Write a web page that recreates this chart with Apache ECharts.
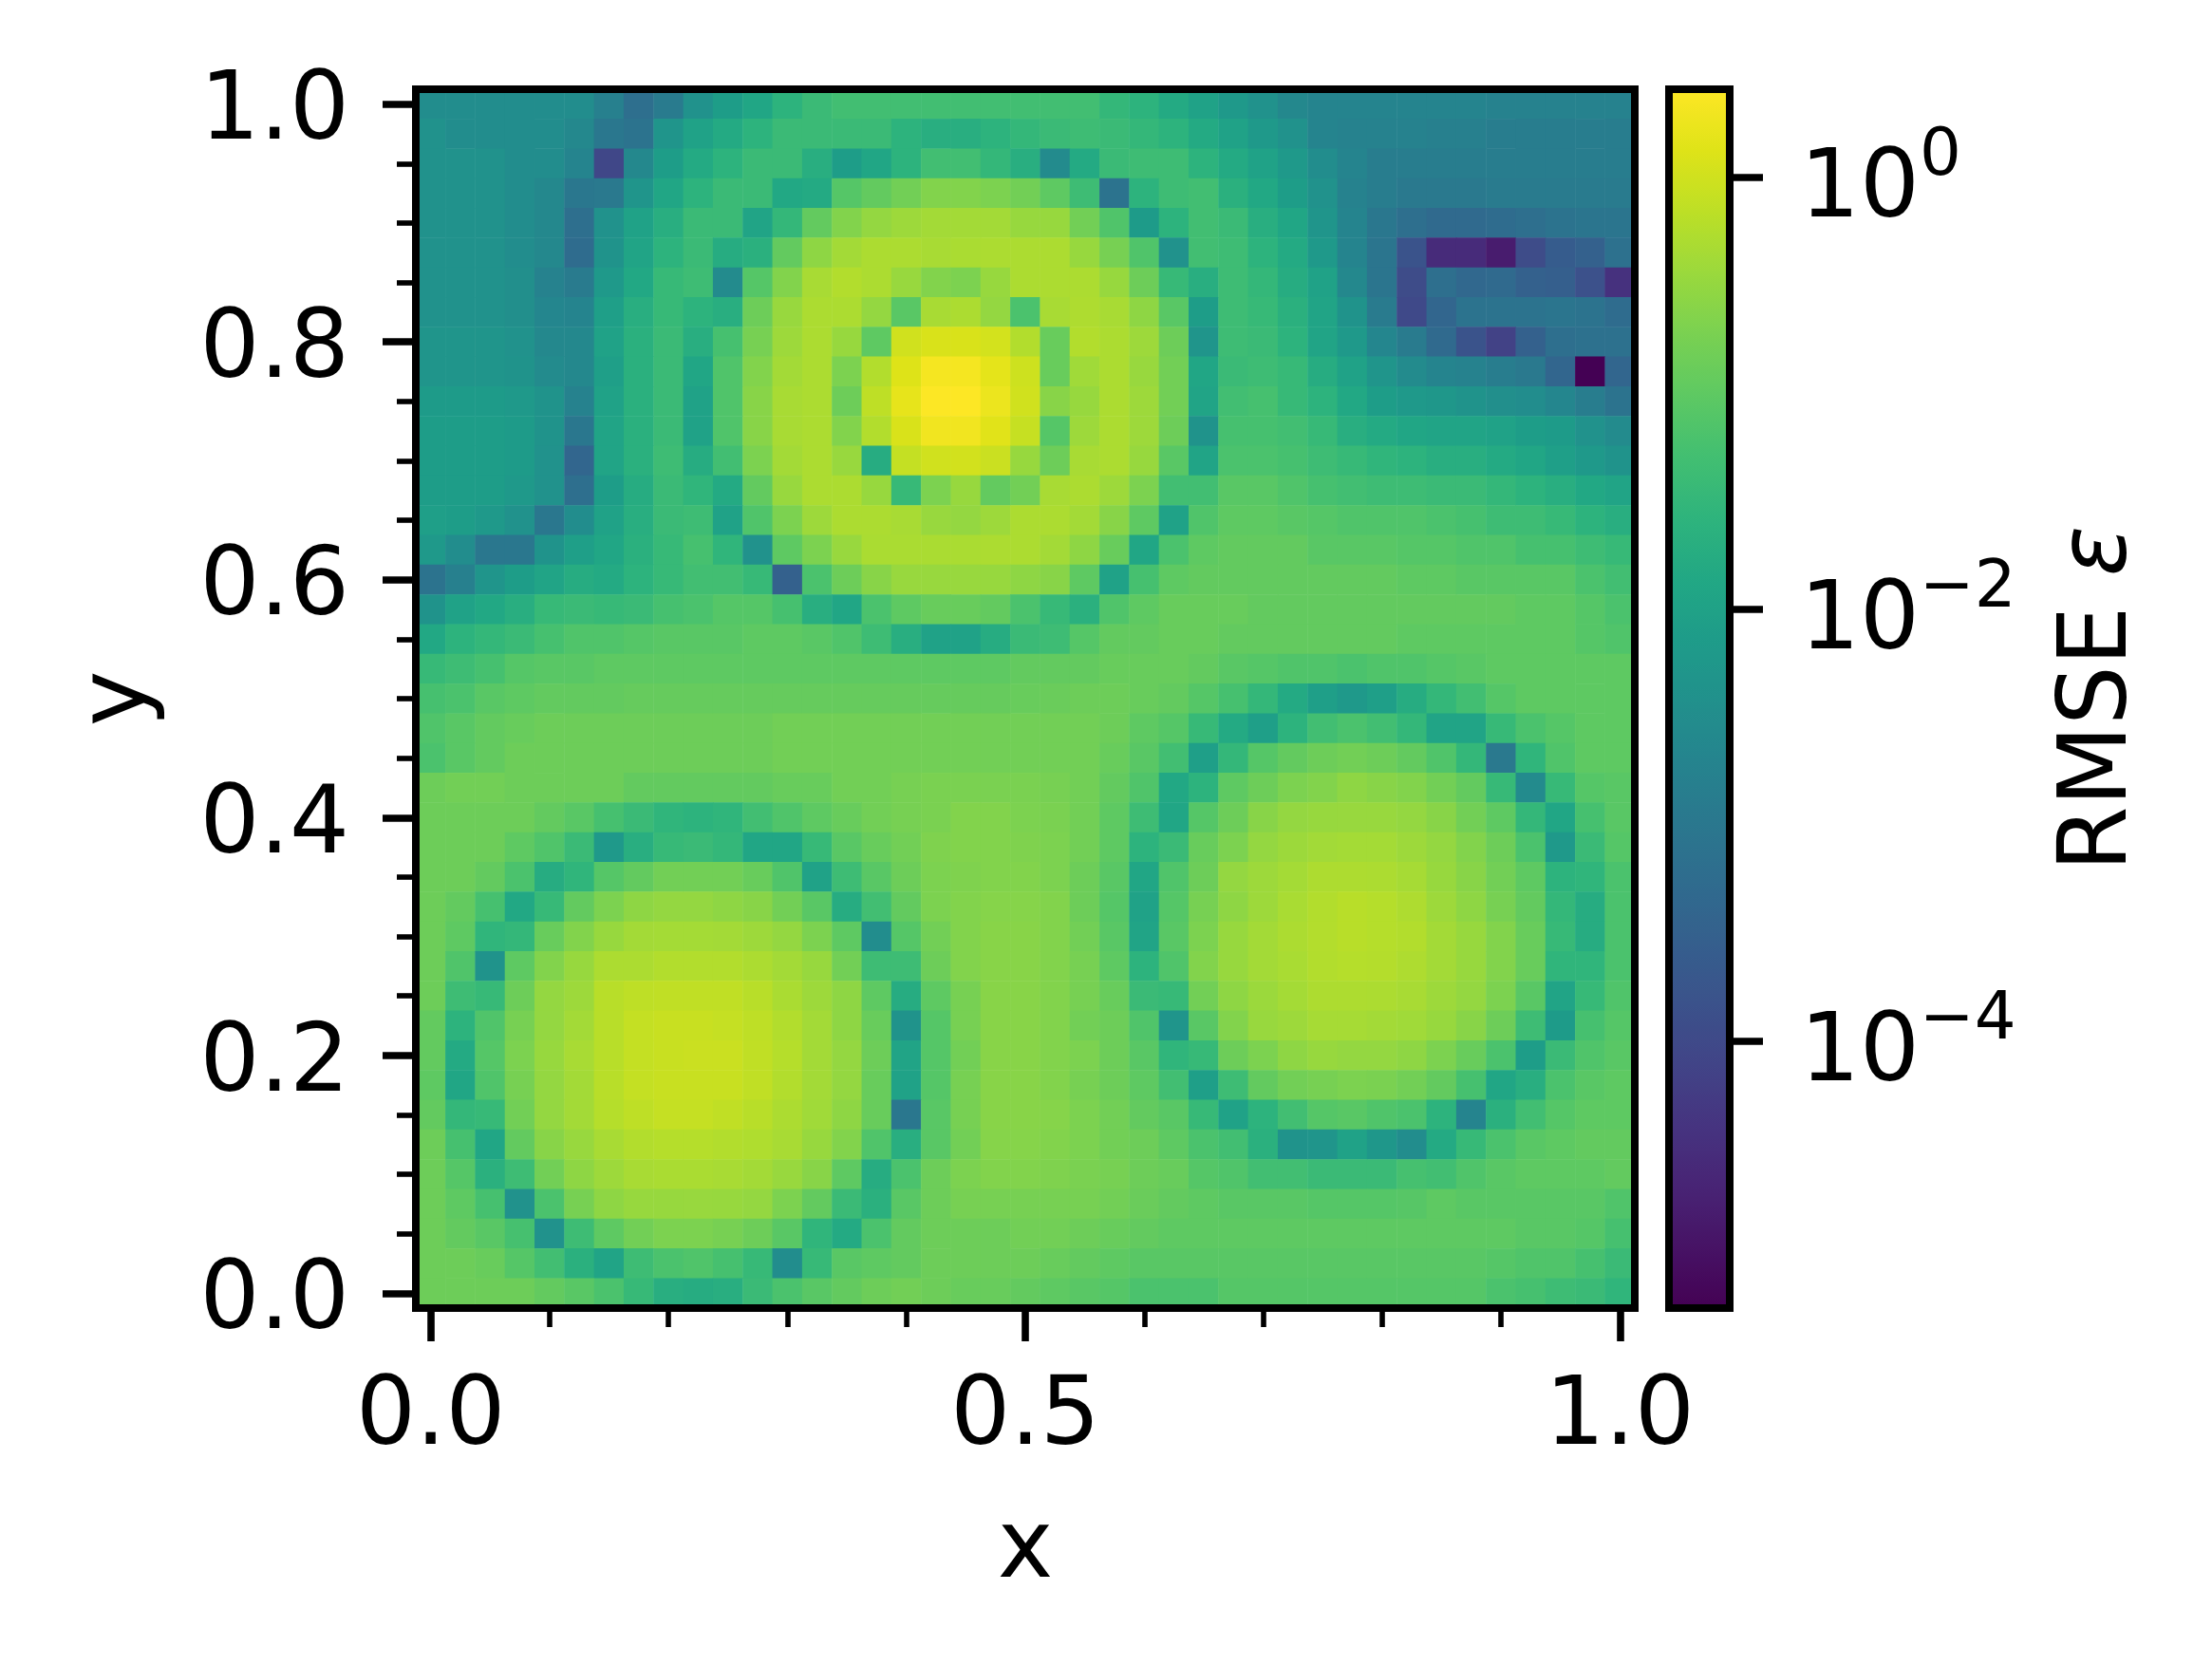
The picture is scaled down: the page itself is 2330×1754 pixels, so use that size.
<!DOCTYPE html>
<html>
<head>
<meta charset="utf-8">
<title>RMSE heat map</title>
<style>html,body{margin:0;padding:0;background:#fff}#chart{width:2330px;height:1754px}</style>
<script src="https://cdn.jsdelivr.net/npm/echarts@6/dist/echarts.min.js"></script>
</head>
<body>
<div id="chart"></div>
<script>
// Axis positions of the 41 x 41 cells
const xCategories = ['0.000','0.025','0.050','0.075','0.100','0.125','0.150','0.175','0.200','0.225','0.250','0.275','0.300','0.325','0.350','0.375','0.400','0.425','0.450','0.475','0.500','0.525','0.550','0.575','0.600','0.625','0.650','0.675','0.700','0.725','0.750','0.775','0.800','0.825','0.850','0.875','0.900','0.925','0.950','0.975','1.000'];
const yCategories = xCategories.slice();
const colorbarTicks = [-4, -2, 0];
const colorbarLabels = {'-4': '−4', '-2': '−2', '0': '0'};

// log10(RMSE), one array per row, top row (y = 1.0) first
const row00 = [-2.5,-2.5,-2.5,-2.5,-2.5,-2.5,-2.8,-3.2,-2.9,-2.4, -2.1,-1.9,-1.6,-1.4,-1.3,-1.3,-1.3,-1.3,-1.3,-1.3, -1.3,-1.3,-1.3,-1.5,-1.6,-1.8,-2.0,-2.2,-2.4,-2.6, -2.7,-2.7,-2.7,-2.7,-2.7,-2.7,-2.75,-2.75,-2.75,-2.75,-2.75];
const row01 = [-2.4,-2.5,-2.5,-2.5,-2.5,-2.6,-3.0,-3.1,-2.3,-2.0, -1.8,-1.6,-1.4,-1.4,-1.4,-1.4,-1.6,-1.7,-1.7,-1.6, -1.5,-1.4,-1.35,-1.4,-1.5,-1.6,-1.8,-2.0,-2.2,-2.4, -2.7,-2.75,-2.75,-2.75,-2.8,-2.8,-2.85,-2.85,-2.85,-2.85,-2.85];
const row02 = [-2.4,-2.4,-2.4,-2.5,-2.5,-2.7,-4.05,-2.6,-2.1,-1.8, -1.6,-1.4,-1.4,-1.7,-2.1,-1.9,-1.6,-1.3,-1.3,-1.5, -1.7,-2.55,-1.8,-1.4,-1.35,-1.35,-1.6,-1.8,-2.0,-2.2, -2.5,-2.7,-2.85,-2.85,-2.85,-2.85,-2.85,-2.85,-2.85,-2.85,-2.85];
const row03 = [-2.4,-2.4,-2.4,-2.5,-2.6,-3.0,-2.95,-2.3,-1.9,-1.6, -1.4,-1.4,-1.85,-1.8,-1.1,-0.95,-0.8,-0.65,-0.65,-0.7, -0.8,-1.0,-1.35,-3.1,-1.6,-1.35,-1.3,-1.65,-1.85,-2.1, -2.4,-2.75,-2.85,-2.95,-2.95,-2.95,-2.9,-2.9,-2.9,-2.9,-2.9];
const row04 = [-2.4,-2.4,-2.4,-2.5,-2.6,-3.2,-2.4,-2.0,-1.7,-1.4, -1.4,-1.95,-1.5,-0.95,-0.65,-0.5,-0.42,-0.37,-0.37,-0.37, -0.47,-0.47,-0.8,-1.15,-2.15,-1.6,-1.3,-1.4,-1.7,-1.9, -2.3,-2.7,-3.0,-3.2,-3.3,-3.3,-3.25,-3.2,-3.1,-3.05,-3.05];
const row05 = [-2.4,-2.4,-2.4,-2.5,-2.6,-3.25,-2.35,-1.95,-1.6,-1.4, -1.75,-1.65,-0.95,-0.55,-0.37,-0.3,-0.3,-0.33,-0.31,-0.3, -0.3,-0.3,-0.47,-0.75,-1.15,-2.4,-1.3,-1.35,-1.6,-1.8, -2.2,-2.7,-3.05,-3.8,-4.55,-4.55,-4.8,-3.95,-3.6,-3.5,-3.15];
const row06 = [-2.4,-2.4,-2.4,-2.45,-2.75,-2.9,-2.2,-1.85,-1.45,-1.35, -2.55,-1.1,-0.65,-0.33,-0.25,-0.3,-0.46,-0.65,-0.7,-0.47, -0.3,-0.3,-0.3,-0.47,-0.85,-1.45,-1.7,-1.35,-1.5,-1.75, -2.0,-2.6,-3.05,-3.95,-3.2,-3.35,-3.3,-3.5,-3.55,-3.85,-4.45];
const row07 = [-2.4,-2.4,-2.4,-2.45,-2.65,-2.7,-2.05,-1.7,-1.45,-1.6, -1.7,-0.85,-0.46,-0.3,-0.3,-0.5,-1.05,-0.33,-0.3,-0.5, -1.2,-0.33,-0.28,-0.33,-0.55,-1.05,-2.1,-1.35,-1.45,-1.65, -1.95,-2.35,-2.9,-4.0,-3.4,-3.1,-3.1,-3.1,-3.05,-3.1,-3.25];
const row08 = [-2.3,-2.3,-2.3,-2.4,-2.6,-2.6,-2.0,-1.65,-1.4,-1.7, -1.25,-0.75,-0.42,-0.3,-0.47,-1.0,0.0,0.08,0.08,0.03, -0.25,-0.9,-0.25,-0.3,-0.42,-0.85,-2.3,-1.35,-1.4,-1.6, -1.95,-2.2,-2.65,-2.9,-3.3,-3.8,-4.15,-3.5,-3.2,-3.15,-3.15];
const row09 = [-2.3,-2.3,-2.3,-2.35,-2.55,-2.6,-2.05,-1.65,-1.4,-1.9, -1.15,-0.65,-0.37,-0.3,-0.7,-0.25,0.12,0.33,0.33,0.18, -0.02,-0.9,-0.4,-0.3,-0.46,-0.8,-1.9,-1.4,-1.35,-1.45, -1.75,-2.0,-2.3,-2.55,-2.7,-2.75,-2.85,-2.95,-3.4,-5.24,-3.4];
const row10 = [-2.15,-2.15,-2.15,-2.2,-2.35,-2.75,-2.0,-1.65,-1.4,-2.0, -1.15,-0.6,-0.33,-0.3,-0.85,-0.15,0.2,0.4,0.41,0.25, 0.0,-0.6,-0.47,-0.3,-0.42,-0.8,-1.95,-1.3,-1.25,-1.45, -1.6,-1.85,-2.1,-2.2,-2.25,-2.35,-2.45,-2.5,-2.65,-2.85,-3.1];
const row11 = [-2.1,-2.1,-2.1,-2.15,-2.35,-3.0,-1.95,-1.65,-1.4,-2.0, -1.15,-0.6,-0.33,-0.3,-0.65,-0.25,0.08,0.3,0.3,0.15, -0.08,-1.1,-0.42,-0.3,-0.42,-0.85,-2.35,-1.25,-1.25,-1.3, -1.45,-1.7,-1.8,-1.9,-1.95,-1.95,-2.0,-2.1,-2.15,-2.4,-2.55];
const row12 = [-2.1,-2.1,-2.1,-2.15,-2.4,-3.4,-1.95,-1.65,-1.35,-1.75, -1.3,-0.7,-0.37,-0.3,-0.46,-1.75,-0.1,0.0,0.02,-0.05, -0.47,-0.85,-0.33,-0.3,-0.47,-1.05,-1.95,-1.2,-1.2,-1.25, -1.35,-1.45,-1.55,-1.6,-1.7,-1.7,-1.8,-1.9,-2.05,-2.2,-2.35];
const row13 = [-2.1,-2.1,-2.1,-2.2,-2.4,-3.2,-2.1,-1.75,-1.4,-1.55, -1.8,-0.95,-0.46,-0.3,-0.3,-0.47,-1.45,-0.7,-0.47,-0.95, -0.8,-0.33,-0.3,-0.42,-0.7,-1.3,-1.3,-1.05,-1.05,-1.15, -1.25,-1.3,-1.35,-1.35,-1.4,-1.4,-1.5,-1.6,-1.7,-1.85,-1.95];
const row14 = [-2.05,-2.1,-2.2,-2.4,-3.0,-2.5,-2.0,-1.7,-1.4,-1.35, -2.0,-1.15,-0.7,-0.42,-0.3,-0.3,-0.33,-0.46,-0.5,-0.42, -0.3,-0.3,-0.37,-0.6,-1.0,-2.0,-1.15,-1.0,-1.0,-1.05, -1.1,-1.15,-1.15,-1.15,-1.2,-1.25,-1.35,-1.35,-1.45,-1.6,-1.7];
const row15 = [-2.2,-2.5,-3.0,-3.0,-2.35,-2.05,-1.9,-1.65,-1.45,-1.25, -1.55,-2.4,-1.0,-0.7,-0.46,-0.31,-0.31,-0.31,-0.31,-0.3, -0.3,-0.37,-0.55,-0.9,-1.9,-1.2,-1.0,-0.95,-0.95,-0.95, -1.05,-1.05,-1.05,-1.1,-1.1,-1.15,-1.15,-1.25,-1.25,-1.35,-1.45];
const row16 = [-3.1,-2.8,-2.3,-2.1,-1.95,-1.75,-1.8,-1.6,-1.45,-1.3, -1.3,-1.45,-3.5,-1.2,-0.85,-0.6,-0.46,-0.46,-0.46,-0.47, -0.55,-0.6,-1.0,-2.0,-1.25,-1.0,-0.95,-0.95,-0.95,-0.95, -0.95,-0.95,-0.95,-1.0,-1.0,-1.05,-1.05,-1.05,-1.05,-1.2,-1.3];
const row17 = [-2.35,-2.0,-1.85,-1.7,-1.45,-1.4,-1.45,-1.4,-1.25,-1.2, -1.1,-1.1,-1.25,-1.7,-1.9,-1.2,-1.0,-0.9,-0.9,-0.95, -1.2,-1.45,-1.65,-1.15,-1.0,-0.9,-0.9,-0.9,-0.95,-0.95, -0.95,-0.95,-0.95,-0.95,-0.95,-0.95,-0.95,-1.0,-1.0,-1.1,-1.2];
const row18 = [-1.85,-1.6,-1.5,-1.4,-1.25,-1.15,-1.15,-1.1,-1.05,-1.05, -1.05,-1.0,-1.0,-1.05,-1.15,-1.35,-1.7,-2.0,-2.0,-1.75, -1.4,-1.35,-1.1,-0.95,-0.95,-0.9,-0.9,-0.95,-0.95,-0.95, -0.95,-0.95,-0.95,-1.0,-1.0,-1.0,-1.0,-1.0,-1.0,-1.1,-1.15];
const row19 = [-1.45,-1.35,-1.25,-1.1,-1.05,-1.05,-1.0,-1.0,-1.0,-1.0, -1.0,-1.0,-1.0,-1.0,-1.0,-1.0,-1.0,-1.0,-1.0,-1.0, -0.95,-0.95,-0.95,-0.9,-0.9,-0.9,-0.95,-1.05,-1.1,-1.15, -1.15,-1.2,-1.15,-1.15,-1.1,-1.05,-1.0,-1.0,-1.0,-1.0,-1.0];
const row20 = [-1.25,-1.2,-1.05,-1.0,-0.95,-0.95,-0.95,-0.92,-0.92,-0.92, -0.92,-0.92,-0.92,-0.92,-0.92,-0.92,-0.92,-0.92,-0.92,-0.92, -0.9,-0.88,-0.85,-0.85,-0.9,-0.95,-1.1,-1.25,-1.5,-1.8, -2.05,-2.2,-2.05,-1.75,-1.5,-1.3,-1.1,-1.0,-1.0,-1.0,-1.0];
const row21 = [-1.15,-1.05,-0.95,-0.9,-0.85,-0.85,-0.85,-0.85,-0.85,-0.85, -0.85,-0.85,-0.8,-0.8,-0.8,-0.8,-0.8,-0.8,-0.8,-0.8, -0.8,-0.8,-0.8,-0.85,-1.0,-1.1,-1.45,-1.8,-2.05,-1.6, -1.3,-1.2,-1.3,-1.5,-1.95,-1.95,-1.45,-1.2,-1.1,-1.0,-1.0];
const row22 = [-1.2,-1.05,-0.95,-0.85,-0.85,-0.85,-0.85,-0.85,-0.85,-0.85, -0.85,-0.85,-0.8,-0.8,-0.8,-0.8,-0.8,-0.8,-0.8,-0.8, -0.8,-0.8,-0.8,-0.9,-1.05,-1.3,-2.05,-1.5,-1.1,-0.95, -0.85,-0.8,-0.85,-0.95,-1.15,-1.5,-2.95,-1.55,-1.15,-1.0,-1.0];
const row23 = [-0.85,-0.8,-0.8,-0.85,-0.85,-0.85,-0.85,-0.95,-0.95,-0.95, -0.95,-0.95,-0.9,-0.9,-0.8,-0.8,-0.75,-0.72,-0.72,-0.72, -0.72,-0.75,-0.8,-0.95,-1.15,-1.85,-1.6,-1.0,-0.85,-0.7, -0.65,-0.55,-0.6,-0.65,-0.8,-0.95,-1.45,-2.55,-1.45,-1.1,-1.05];
const row24 = [-0.85,-0.85,-0.85,-0.85,-0.95,-1.05,-1.25,-1.4,-1.55,-1.6, -1.55,-1.3,-1.15,-1.0,-0.9,-0.8,-0.75,-0.72,-0.65,-0.65, -0.7,-0.72,-0.8,-1.0,-1.35,-1.9,-1.1,-0.85,-0.6,-0.5, -0.47,-0.46,-0.46,-0.5,-0.6,-0.8,-1.0,-1.5,-1.9,-1.25,-1.05];
const row25 = [-0.85,-0.85,-0.85,-1.0,-1.15,-1.4,-2.2,-1.7,-1.45,-1.4, -1.5,-1.9,-1.9,-1.45,-1.05,-0.9,-0.8,-0.68,-0.65,-0.65, -0.68,-0.7,-0.8,-1.0,-1.6,-1.4,-0.9,-0.7,-0.5,-0.43, -0.38,-0.36,-0.36,-0.42,-0.5,-0.65,-0.85,-1.2,-2.2,-1.4,-1.1];
const row26 = [-0.85,-0.85,-0.95,-1.2,-1.75,-1.55,-1.1,-0.95,-0.8,-0.8, -0.8,-0.9,-1.15,-2.0,-1.35,-1.05,-0.85,-0.7,-0.68,-0.65, -0.65,-0.7,-0.85,-1.05,-1.9,-1.15,-0.85,-0.5,-0.42,-0.36, -0.29,-0.29,-0.3,-0.35,-0.47,-0.6,-0.8,-1.0,-1.6,-1.55,-1.2];
const row27 = [-0.85,-0.95,-1.25,-1.85,-1.45,-0.95,-0.7,-0.55,-0.5,-0.5, -0.55,-0.6,-0.8,-1.05,-1.75,-1.3,-0.95,-0.7,-0.65,-0.62, -0.62,-0.65,-0.85,-1.1,-2.0,-1.1,-0.75,-0.55,-0.42,-0.32, -0.25,-0.2,-0.22,-0.28,-0.42,-0.55,-0.75,-0.95,-1.5,-1.75,-1.2];
const row28 = [-0.85,-1.0,-1.55,-1.5,-0.9,-0.65,-0.47,-0.37,-0.36,-0.36, -0.37,-0.42,-0.5,-0.7,-1.0,-2.5,-1.1,-0.8,-0.65,-0.6, -0.6,-0.65,-0.8,-1.05,-1.95,-1.05,-0.7,-0.47,-0.37,-0.3, -0.24,-0.2,-0.22,-0.25,-0.37,-0.47,-0.65,-0.9,-1.45,-1.75,-1.2];
const row29 = [-0.85,-1.15,-2.35,-1.0,-0.65,-0.47,-0.3,-0.3,-0.25,-0.25, -0.25,-0.3,-0.37,-0.47,-0.8,-1.35,-1.35,-0.85,-0.65,-0.6, -0.6,-0.65,-0.75,-1.0,-1.6,-1.15,-0.65,-0.47,-0.37,-0.32, -0.25,-0.22,-0.23,-0.28,-0.37,-0.47,-0.65,-0.9,-1.55,-1.55,-1.2];
const row30 = [-0.85,-1.35,-1.45,-0.85,-0.5,-0.42,-0.2,-0.15,-0.13,-0.13, -0.13,-0.2,-0.31,-0.42,-0.55,-1.0,-1.75,-1.0,-0.75,-0.6, -0.6,-0.65,-0.75,-0.9,-1.4,-1.45,-0.8,-0.55,-0.44,-0.36, -0.29,-0.29,-0.3,-0.33,-0.42,-0.5,-0.7,-1.05,-1.95,-1.45,-1.15];
const row31 = [-0.95,-1.6,-1.15,-0.75,-0.5,-0.37,-0.2,-0.1,-0.06,-0.06, -0.09,-0.15,-0.25,-0.37,-0.55,-0.9,-2.35,-1.1,-0.75,-0.6, -0.6,-0.65,-0.8,-0.85,-1.15,-2.3,-1.05,-0.65,-0.46,-0.42, -0.35,-0.35,-0.37,-0.4,-0.47,-0.6,-0.85,-1.35,-2.15,-1.25,-1.1];
const row32 = [-0.95,-1.8,-1.1,-0.7,-0.47,-0.33,-0.2,-0.1,-0.06,-0.05, -0.05,-0.13,-0.22,-0.37,-0.5,-0.85,-1.95,-1.1,-0.8,-0.6, -0.6,-0.65,-0.7,-0.85,-1.05,-1.55,-1.45,-0.85,-0.7,-0.55, -0.47,-0.5,-0.5,-0.55,-0.7,-0.9,-1.2,-2.1,-1.4,-1.15,-1.05];
const row33 = [-1.0,-1.9,-1.15,-0.75,-0.5,-0.37,-0.2,-0.1,-0.06,-0.06, -0.06,-0.13,-0.25,-0.37,-0.5,-0.9,-2.0,-1.1,-0.75,-0.6, -0.6,-0.65,-0.75,-0.85,-1.0,-1.3,-2.05,-1.35,-0.95,-0.8, -0.75,-0.7,-0.72,-0.8,-0.95,-1.25,-1.9,-1.7,-1.2,-1.05,-1.0];
const row34 = [-0.95,-1.5,-1.45,-0.8,-0.5,-0.37,-0.22,-0.15,-0.09,-0.09, -0.13,-0.2,-0.3,-0.4,-0.55,-0.9,-3.0,-1.05,-0.75,-0.6, -0.6,-0.62,-0.7,-0.8,-0.95,-1.05,-1.45,-2.0,-1.6,-1.3, -1.1,-1.05,-1.15,-1.2,-1.6,-2.7,-1.65,-1.3,-1.1,-1.0,-1.0];
const row35 = [-0.85,-1.25,-1.9,-0.95,-0.6,-0.46,-0.33,-0.25,-0.22,-0.22, -0.25,-0.27,-0.33,-0.47,-0.65,-1.15,-1.7,-1.05,-0.8,-0.62, -0.62,-0.65,-0.7,-0.8,-0.85,-1.0,-1.2,-1.3,-1.65,-2.35, -2.3,-2.0,-2.25,-2.5,-1.8,-1.45,-1.2,-1.05,-1.0,-0.95,-0.95];
const row36 = [-0.85,-1.1,-1.65,-1.35,-0.8,-0.55,-0.42,-0.33,-0.31,-0.31, -0.33,-0.37,-0.46,-0.6,-1.0,-1.75,-1.2,-0.85,-0.7,-0.65, -0.65,-0.68,-0.72,-0.75,-0.85,-0.9,-1.1,-1.15,-1.3,-1.3, -1.4,-1.4,-1.4,-1.25,-1.3,-1.15,-1.05,-1.0,-1.0,-1.0,-0.95];
const row37 = [-0.85,-1.0,-1.25,-2.4,-1.2,-0.75,-0.55,-0.47,-0.47,-0.46, -0.47,-0.5,-0.7,-0.95,-1.4,-1.65,-1.05,-0.85,-0.75,-0.75, -0.75,-0.75,-0.75,-0.8,-0.88,-0.95,-1.0,-1.05,-1.05,-1.05, -1.1,-1.1,-1.1,-1.08,-1.0,-1.05,-1.05,-1.05,-1.05,-1.05,-1.15];
const row38 = [-0.85,-0.95,-1.05,-1.25,-2.4,-1.35,-1.0,-0.8,-0.7,-0.7, -0.75,-0.85,-1.05,-1.55,-1.8,-1.2,-0.95,-0.85,-0.85,-0.85, -0.8,-0.8,-0.85,-0.9,-0.95,-1.0,-1.0,-1.0,-1.0,-1.0, -1.0,-1.0,-1.0,-1.0,-1.0,-1.0,-1.0,-1.05,-1.05,-1.1,-1.25];
const row39 = [-0.85,-0.85,-0.9,-1.1,-1.3,-1.65,-1.95,-1.35,-1.2,-1.15, -1.25,-1.45,-2.5,-1.45,-1.05,-1.0,-0.95,-0.85,-0.85,-0.85, -0.85,-0.9,-0.95,-1.0,-1.05,-1.05,-1.05,-1.05,-1.05,-1.05, -1.05,-1.05,-1.05,-1.05,-1.05,-1.05,-1.1,-1.15,-1.15,-1.25,-1.4];
const row40 = [-0.85,-0.85,-0.85,-0.85,-0.95,-1.05,-1.2,-1.45,-1.7,-1.75, -1.7,-1.4,-1.2,-1.05,-0.95,-0.85,-0.8,-0.85,-0.9,-0.9, -0.95,-1.0,-1.05,-1.1,-1.2,-1.2,-1.2,-1.1,-1.1,-1.1, -1.1,-1.1,-1.1,-1.1,-1.1,-1.1,-1.2,-1.25,-1.35,-1.4,-1.55];

const rows = [row00,row01,row02,row03,row04,row05,row06,row07,row08,row09,row10,row11,row12,row13,row14,row15,row16,row17,row18,row19,row20,row21,row22,row23,row24,row25,row26,row27,row28,row29,row30,row31,row32,row33,row34,row35,row36,row37,row38,row39,row40];

const viridis = ['#440154','#471365','#482475','#463480','#414487','#3b528b','#355f8d','#2f6c8e','#2a788e','#25848e','#21918c','#1e9c89','#22a884','#2fb47c','#43bf71','#5ec962','#7ad151','#9bd93c','#bddf26','#dfe318','#fde725'];
const logMin = -5.235, logMax = 0.409;

const cells = [];
rows.forEach((row, r) => row.forEach((v, c) => cells.push([c, rows.length - 1 - r, v])));

const FONT = 'DejaVu Sans';
const FS = 99;

function catAxisBase(extra) {
  return Object.assign({type:'category', boundaryGap:true, gridIndex:0, splitLine:{show:false}, splitArea:{show:false}}, extra);
}

const chart = echarts.init(document.getElementById('chart'), null, {renderer:'canvas', width:2330, height:1754});
chart.setOption({
  animation:false,
  backgroundColor:'#ffffff',
  textStyle:{fontFamily:FONT},
  grid:[
    {left:438, top:94, width:1284, height:1284, show:true, z:5, backgroundColor:'transparent', borderColor:'#000', borderWidth:8},
    {left:1758, top:94, width:64, height:1284, show:true, z:5, backgroundColor:'transparent', borderColor:'#000', borderWidth:8}
  ],
  xAxis:[
    catAxisBase({data:xCategories, position:'bottom', z:6,
      axisLine:{show:false},
      axisTick:{show:true, alignWithLabel:true, interval:19, length:35, lineStyle:{color:'#000', width:7.6}},
      axisLabel:{show:true, interval:19, margin:68, fontFamily:FONT, fontSize:FS, color:'#000', formatter:v=>parseFloat(v).toFixed(1)},
      name:'x', nameLocation:'middle', nameGap:208, nameTextStyle:{fontFamily:FONT, fontSize:FS, color:'#000'}}),
    catAxisBase({data:xCategories, position:'bottom', z:6,
      axisLine:{show:false},
      axisTick:{show:true, alignWithLabel:true, interval:3, length:20, lineStyle:{color:'#000', width:5.6}},
      axisLabel:{show:false}}),
    {type:'value', gridIndex:1, min:0, max:1, show:false}
  ],
  yAxis:[
    catAxisBase({data:yCategories, position:'left', z:6,
      axisLine:{show:false},
      axisTick:{show:true, alignWithLabel:true, interval:7, length:35, lineStyle:{color:'#000', width:7.6}},
      axisLabel:{show:true, interval:7, margin:70, fontFamily:FONT, color:'#000',
        formatter:v=>'{t|'+parseFloat(v).toFixed(1)+'}',
        rich:{t:{fontFamily:FONT, fontSize:FS, color:'#000', padding:[22,0,0,0]}}},
      name:'y', nameLocation:'middle', nameGap:262, nameTextStyle:{fontFamily:FONT, fontSize:FS, color:'#000'}}),
    catAxisBase({data:yCategories, position:'left', z:6,
      axisLine:{show:false},
      axisTick:{show:true, alignWithLabel:true, interval:1, length:20, lineStyle:{color:'#000', width:5.6}},
      axisLabel:{show:false}}),
    {type:'value', gridIndex:1, position:'right', min:logMin, max:logMax, z:6,
      splitLine:{show:false},
      axisLine:{show:false, onZero:false},
      axisTick:{show:true, inside:false, length:35, customValues:colorbarTicks, lineStyle:{color:'#000', width:7.6}},
      axisLabel:{show:true, margin:74, customValues:colorbarTicks, align:'left', padding:[30,0,0,0], fontFamily:FONT, color:'#000',
        formatter:v=>'{b|10}{s|'+colorbarLabels[String(v)]+'}',
        rich:{b:{fontFamily:FONT, fontSize:FS, color:'#000', padding:[21,0,21,0]},
              s:{fontFamily:FONT, fontSize:69, color:'#000', verticalAlign:'top'}}},
      name:'RMSE {i|ε}', nameLocation:'middle', nameGap:342, nameRotate:90,
      nameTextStyle:{fontFamily:FONT, fontSize:FS, color:'#000',
        rich:{i:{fontFamily:FONT, fontStyle:'italic', fontSize:FS, color:'#000'}}}}
  ],
  visualMap:{
    type:'continuous', seriesIndex:0, dimension:2, min:logMin, max:logMax,
    left:1758, top:94, itemWidth:64, itemHeight:1284, padding:0,
    orient:'vertical', calculable:false, hoverLink:false, text:null, showLabel:false,
    inRange:{color:viridis}
  },
  series:[{
    name:'log10 RMSE', type:'heatmap', xAxisIndex:0, yAxisIndex:0, data:cells, progressive:0,
    itemStyle:{borderWidth:0}, emphasis:{disabled:true}, silent:true, label:{show:false}
  }]
});
</script>
</body>
</html>
